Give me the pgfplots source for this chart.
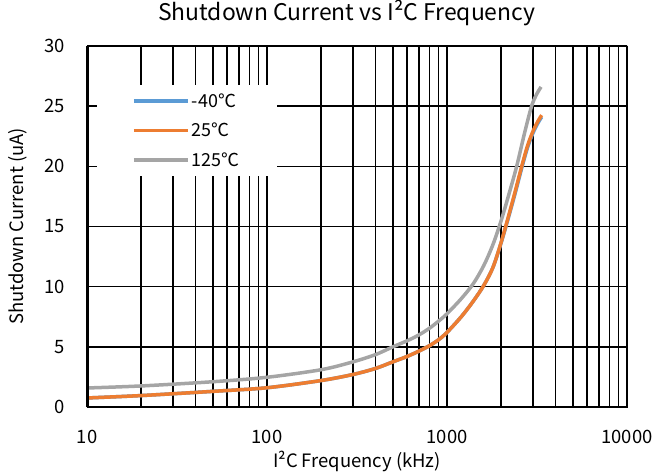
\documentclass[border=0pt]{standalone}
\usepackage{fontspec}
\setmainfont{Noto Sans CJK SC}
\usepackage{pgfplots}
\pgfplotsset{compat=1.18}
\definecolor{cblue}{HTML}{5B9BD5}
\definecolor{corange}{HTML}{ED7D31}
\definecolor{cgray}{HTML}{A5A5A5}
\begin{document}
\begin{tikzpicture}
\useasboundingbox (-87bp,-66bp) rectangle (565bp,407bp);
\begin{axis}[
  scale only axis, width=540bp, height=361bp,
  xmode=log, xmin=10, xmax=10000, ymin=0, ymax=30,
  xtick={10,100,1000,10000}, xticklabels={10,100,1000,10000},
  ytick={0,5,10,15,20,25,30},
  xmajorgrids, xminorgrids, ymajorgrids,
  major grid style={black, line width=1.4bp},
  minor grid style={black, line width=1.4bp},
  major tick length=0pt, minor tick length=0pt,
  tick label style={font=\fontsize{18.5}{21}\selectfont},
  /pgf/number format/assume math mode=true,
  xticklabel style={anchor=center, inner sep=0pt, yshift=-30bp},
  yticklabel style={anchor=east, inner sep=0pt, xshift=-22bp},
  xlabel={I²C Frequency (kHz)},
  ylabel={Shutdown Current (uA)},
  label style={font=\fontsize{18.5}{21}\selectfont},
  xlabel style={at={(axis description cs:0.5,-0.1496)}, anchor=center},
  ylabel style={at={(axis description cs:-0.1278,0.5)}, anchor=center},
  title={Shutdown Current vs I²C Frequency},
  title style={font=\fontsize{23}{26}\selectfont, at={(axis description cs:0.481,1.0748)}, anchor=center},
  legend style={at={(rel axis cs:0.0185,0.892)}, anchor=north west, draw=none, fill=white,
    inner xsep=35bp, inner ysep=1bp, font=\fontsize{18}{21}\selectfont,
    nodes={minimum height=29.5bp, inner xsep=2.5bp, inner ysep=0pt}},
  legend cell align=left,
  legend image code/.code={\draw[#1, line width=3.2bp] (0bp,0bp) -- (54bp,0bp);},
  every axis plot/.append style={line width=3.5bp},
]
% -40 C
\addplot[cblue, smooth] coordinates {
(10,0.75) (20,0.95) (50,1.3) (100,1.6) (200,2.2) (300,2.7) (400,3.2) (500,3.75)
(600,4.2) (700,4.65) (800,5.1) (900,5.6) (1000,6.2) (1200,7.5) (1400,8.8)
(1600,10.1) (1800,11.6) (2000,13.65) (2200,15.8) (2400,17.85) (2600,19.85)
(2800,21.55) (3000,22.75) (3200,23.6) (3357,24.1)};
\addlegendentry{-40℃}
% 25 C
\addplot[corange, smooth] coordinates {
(10,0.75) (20,0.95) (50,1.3) (100,1.6) (200,2.2) (300,2.7) (400,3.2) (500,3.75)
(600,4.2) (700,4.65) (800,5.1) (900,5.6) (1000,6.2) (1200,7.5) (1400,8.8)
(1600,10.1) (1800,11.6) (2000,13.7) (2200,15.9) (2400,18.0) (2600,20.0)
(2800,21.7) (3000,22.9) (3200,23.75) (3357,24.25)};
\addlegendentry{25℃}
% 125 C
\addplot[cgray, smooth] coordinates {
(10,1.58) (20,1.75) (50,2.1) (100,2.47) (200,3.1) (300,3.75) (400,4.35) (500,5.0)
(600,5.5) (700,6.0) (800,6.55) (900,7.15) (1000,7.75) (1200,9.0) (1400,10.25)
(1600,11.75) (1800,13.5) (2000,15.5) (2200,17.6) (2438,20.0) (2700,22.8)
(2950,25.0) (3150,26.0) (3330,26.6)};
\addlegendentry{125℃}
\draw[line width=3bp] (rel axis cs:0,0) rectangle (rel axis cs:1,1);
\end{axis}
\end{tikzpicture}
\end{document}
